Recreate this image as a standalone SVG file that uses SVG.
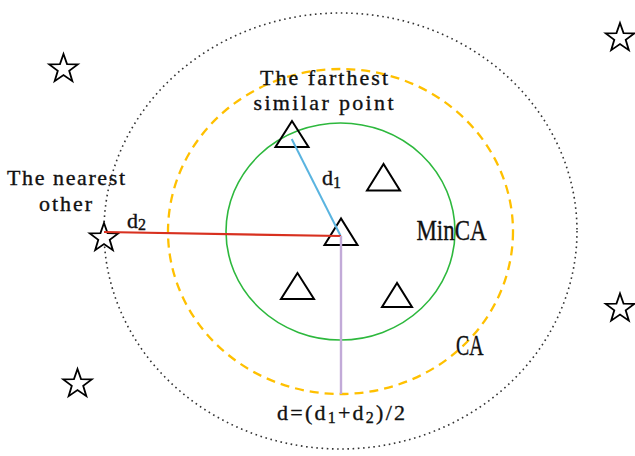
<svg xmlns="http://www.w3.org/2000/svg" width="635" height="456" viewBox="0 0 635 456">
<style>
.lbl{font-family:"Liberation Serif","Times New Roman",serif;font-size:22px;fill:#111;stroke:#111;stroke-width:0.35}
.big{font-family:"Liberation Serif","Times New Roman",serif;font-size:29px;fill:#111;stroke:#111;stroke-width:0.35}
.tri{fill:none;stroke:#000;stroke-width:2}
.star{fill:#fff;stroke:#000;stroke-width:1.8;stroke-linejoin:miter}
</style>
<defs>
<path id="star" d="M0,-15 L3.53,-4.85 L14.27,-4.64 L5.71,1.85 L8.82,12.14 L0,6 L-8.82,12.14 L-5.71,1.85 L-14.27,-4.64 L-3.53,-4.85 Z"/>
</defs>
<rect width="635" height="456" fill="#fff"/>
<g id="regions">
<ellipse id="outer" cx="340.5" cy="231" rx="236.5" ry="218" fill="none" stroke="#333" stroke-width="1.6" stroke-dasharray="1.6 3.6"/>
<ellipse id="CA-circle" cx="340.5" cy="231.5" rx="172.5" ry="162.5" fill="none" stroke="#ffc000" stroke-width="2.3" stroke-dasharray="9 6"/>
<ellipse id="MinCA-circle" cx="340.5" cy="231.5" rx="114.5" ry="108.5" fill="none" stroke="#2db83d" stroke-width="1.6"/>
</g>
<g id="stars">
<use id="star1" href="#star" class="star" transform="translate(63.5,69)"/>
<use id="star2" href="#star" class="star" transform="translate(620,38)"/>
<use id="star3" href="#star" class="star" transform="translate(620,308.5)"/>
<use id="star4" href="#star" class="star" transform="translate(77.5,384)"/>
<use id="star5" href="#star" class="star" transform="translate(104,238)"/>
</g>
<g id="triangles">
<polygon id="tri1" class="tri" points="292,121 275.5,147 308.5,147"/>
<polygon id="tri2" class="tri" points="383.5,164 367,190.5 400,190.5"/>
<polygon id="tri3" class="tri" points="341,218.5 324.5,245 357.5,245"/>
<polygon id="tri4" class="tri" points="297.5,273 281,299 314,299"/>
<polygon id="tri5" class="tri" points="397,283 382,307 412,307"/>
</g>
<g id="connectors">
<line x1="291.7" y1="139" x2="340.7" y2="236" stroke="#5ab4e0" stroke-width="2"/>
<line x1="104" y1="232" x2="341" y2="236" stroke="#d8301f" stroke-width="2.2"/>
<line x1="341" y1="236" x2="341" y2="394" stroke="#c2aad8" stroke-width="2.4"/>
</g>
<g id="labels">
<text class="lbl" x="260" y="85" textLength="128" lengthAdjust="spacing">The farthest</text>
<text class="lbl" x="253.5" y="110" textLength="140" lengthAdjust="spacing">similar point</text>
<text class="lbl" x="7" y="185" textLength="118" lengthAdjust="spacing">The nearest</text>
<text class="lbl" x="39" y="211" textLength="53" lengthAdjust="spacing">other</text>
<text class="lbl" x="322" y="185" font-size="24">d<tspan font-size="16" dy="3">1</tspan></text>
<text class="lbl" x="127" y="228">d<tspan font-size="16" dy="2">2</tspan></text>
<text class="big" x="416.5" y="240" textLength="70" lengthAdjust="spacingAndGlyphs">MinCA</text>
<text class="big" x="456" y="355" textLength="27.5" lengthAdjust="spacingAndGlyphs">CA</text>
<text class="lbl" x="277" y="420" textLength="128" lengthAdjust="spacing">d=(d<tspan font-size="16" dy="3">1</tspan><tspan dy="-3">+d</tspan><tspan font-size="16" dy="3">2</tspan><tspan dy="-3">)/2</tspan></text>
</g>
</svg>
